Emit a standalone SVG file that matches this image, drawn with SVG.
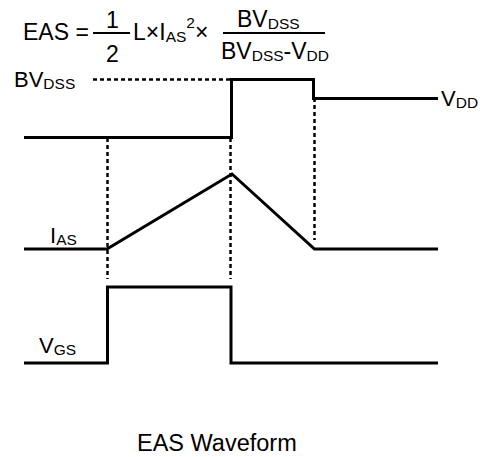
<svg xmlns="http://www.w3.org/2000/svg" width="489" height="457" viewBox="0 0 489 457">
<style>
text{font-family:"Liberation Sans",Arial,sans-serif;fill:#000;font-size:22px}
.f{font-size:23px}
.s{font-size:15.5px}
.w{fill:none;stroke:#000;stroke-width:3;stroke-linejoin:miter}
.d{fill:none;stroke:#000;stroke-width:2.5;stroke-dasharray:4 3}
.b{stroke:#000;stroke-width:2}
</style>
<rect width="489" height="457" fill="#fff"/>
<g id="formula">
<text class="f" x="23" y="40">EAS =</text>
<line class="b" x1="93" y1="33" x2="130" y2="33"/>
<text class="f" x="106" y="28">1</text>
<text class="f" x="106" y="62">2</text>
<text class="f" x="133" y="40">L×I<tspan class="s" dy="2">AS</tspan><tspan class="s" dy="-14">2</tspan><tspan dy="12">×</tspan></text>
<line class="b" x1="223" y1="33" x2="325" y2="33"/>
<text class="f" x="237" y="27">BV<tspan class="s" dy="2">DSS</tspan></text>
<text class="f" x="221" y="59">BV<tspan class="s" dy="2">DSS</tspan><tspan dy="-2">-V</tspan><tspan class="s" dy="2">DD</tspan></text>
</g>
<g id="labels">
<text x="14" y="87">BV<tspan class="s" dy="2">DSS</tspan></text>
<text x="441" y="106">V<tspan class="s" dy="2">DD</tspan></text>
<text x="50" y="243">I<tspan class="s" dy="2">AS</tspan></text>
<text x="39" y="353">V<tspan class="s" dy="2">GS</tspan></text>
<text x="137" y="451" style="font-size:23.5px">EAS Waveform</text>
</g>
<g id="connectors">
<line class="d" x1="93" y1="79.5" x2="230" y2="79.5"/>
<line class="d" x1="107.5" y1="138" x2="107.5" y2="279"/>
<line class="d" x1="230.5" y1="138" x2="230.5" y2="279"/>
<line class="d" x1="314.5" y1="98" x2="314.5" y2="240"/>
</g>
<g id="vds">
<polyline class="w" points="24,137.5 231.5,137.5 231.5,79.5 313.5,79.5 313.5,98.5 438,98.5"/>
</g>
<g id="ias">
<polyline class="w" points="24,249 107,249 232,174 314.5,249 438,249"/>
</g>
<g id="vgs">
<polyline class="w" points="24,363 107.5,363 107.5,287 231,287 231,363 438,363"/>
</g>
</svg>
